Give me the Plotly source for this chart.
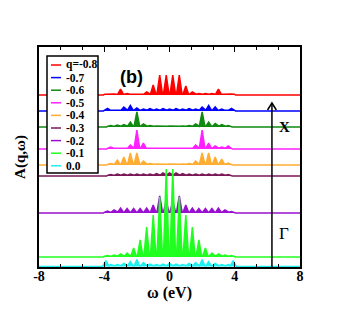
import plotly.graph_objects as go

# ---------------- data ----------------
labels = ["q=-0.8", "-0.7", "-0.6", "-0.5", "-0.4", "-0.3", "-0.2", "-0.1", "0.0"]
colors = ["#ff0000", "#0000ff", "#108a10", "#ff20ff", "#ffad33", "#7a1858", "#9a10d0", "#20ff20", "#20f0f0"]
offsets = [172, 156, 140, 118, 102, 91, 54, 10, 0.5]

grid_odd = [-3.8, -3.4, -3.0, -2.6, -2.2, -1.8, -1.4, -1.0, -0.6, -0.2,
            0.2, 0.6, 1.0, 1.4, 1.8, 2.2, 2.6, 3.0, 3.4, 3.8]
grid_even = [-3.6, -3.2, -2.8, -2.4, -2.0, -1.6, -1.2, -0.8, -0.4, 0.0,
             0.4, 0.8, 1.2, 1.6, 2.0, 2.4, 2.8, 3.2, 3.6]
grid_blue = [-3.8, -3.2, -2.8, -2.4, -2.0, -1.6, -1.2, -0.8, -0.4, 0.0,
             0.4, 0.8, 1.2, 1.6, 2.0, 2.4, 2.8, 3.2, 3.8]
grid_cyan = [-3.9, -3.6, -3.2, -2.8, -2.4, -2.0, -1.6, -1.2, -0.8, -0.4, 0.0,
             0.4, 0.8, 1.2, 1.6, 2.0, 2.4, 2.8, 3.2, 3.6, 3.9]

h_m08 = [1, 1, 6, 1.5, 1.5, 1.5, 3, 10, 20, 20, 20, 20, 9, 3, 1.5, 1.5, 1.5, 6, 1, 1]
h_m07 = [2.5, 1.5, 4, 5.5, 3, 2, 2.5, 2, 2.5, 2, 2.5, 2, 2.5, 2, 4, 5.5, 4, 2, 2.5]
h_m06 = [1.5, 2, 2.5, 5, 15, 3, 1.5, 1, 1, 1, 1, 1, 1.5, 3, 15, 5, 3.5, 2.5, 1.5]
h_m05 = [2, 1.5, 1.5, 4, 19, 6, 1.5, 1, 1, 1, 1, 1, 1.5, 4, 19, 6, 3, 2, 3]
h_m04 = [1.5, 5, 8, 12, 12, 4, 1.5, 1, 1, 1, 1, 1, 1.5, 4, 12, 12, 8, 6, 2]
h_m03 = [1.5, 2, 2, 2, 2, 2, 2, 2.5, 3, 3, 3, 2.5, 2, 2, 2, 2, 2, 2, 1.5]
h_m02 = [2, 3, 5, 4.5, 4.5, 4.5, 5, 8, 17, 12, 12, 17, 8, 5, 4.5, 4.5, 4.5, 5, 3, 1.5]
h_m01 = [1.5, 2, 3, 4, 9, 17, 30, 42, 60, 88, 88, 60, 42, 30, 17, 9, 4, 3, 2, 1.5]
h_000 = [6, 2, 2, 3, 5, 7, 4, 2.5, 2, 2.5, 3, 2.5, 2, 3, 4, 7, 5, 3, 2, 2, 6]

centers = [grid_odd, grid_blue, grid_even, grid_even, grid_even, grid_even, grid_odd, grid_odd, grid_cyan]
heights = [h_m08, h_m07, h_m06, h_m05, h_m04, h_m03, h_m02, h_m01, h_000]

tick_vals = [-8, -4, 0, 4, 8]
tick_text = ["-8", "-4", "0", "4", "8"]

# ---------------- figure ----------------
SERIF = "Liberation Serif"
W = 0.17      # half base width of a peak (eV)
PLAT = 0.8    # small continuum level between peaks

fig = go.Figure()
for lab, col, off, cs, hs in zip(labels, colors, offsets, centers, heights):
    xs = [-8.0, cs[0] - 0.25]
    ys = [off, off]
    for c, h in zip(cs, hs):
        xs += [c - W, c, c + W]
        ys += [off + PLAT, off + h, off + PLAT]
    xs += [cs[-1] + 0.25, 8.0]
    ys += [off, off]
    fig.add_trace(go.Scatter(x=xs, y=ys, mode="lines", fill="toself",
                             fillcolor=col, line=dict(color=col, width=1.5),
                             name=lab, showlegend=False, hoverinfo="skip"))

# page has an 8px body margin; figure is 330x306
FW, FH = 330, 306
# plot area in figure pixels
L, R, T, B = 31, 292, 39, 259
def px(x):   # page-pixel x -> paper
    return (x - 8 - L) / (R - L)
def py(y):   # page-pixel y -> paper
    return (B - (y - 8)) / (B - T)

shapes = []
annotations = []
# manual legend
shapes.append(dict(type="rect", xref="paper", yref="paper",
                   x0=px(47), x1=px(98), y0=py(173), y1=py(56),
                   line=dict(color="black", width=1.5), fillcolor="white", layer="above"))
for i, (lab, col) in enumerate(zip(labels, colors)):
    yy = 65 + 12.6 * i
    shapes.append(dict(type="line", xref="paper", yref="paper",
                       x0=px(51), x1=px(61), y0=py(yy), y1=py(yy),
                       line=dict(color=col, width=1.5), layer="above"))
    annotations.append(dict(xref="paper", yref="paper", x=px(64), y=py(yy),
                            text=lab, showarrow=False, xanchor="left", yanchor="middle",
                            font=dict(family=SERIF, size=11.5, color="black", weight="bold")))

# arrow X <- Gamma
ax_x = 6.28
tip = 164
shapes.append(dict(type="line", xref="x", yref="y", x0=ax_x, x1=ax_x, y0=-2, y1=tip,
                   line=dict(color="black", width=1.5)))
shapes.append(dict(type="path", xref="x", yref="y",
                   path=f"M {ax_x-0.27},{tip-7} L {ax_x},{tip} L {ax_x+0.27},{tip-7}",
                   line=dict(color="black", width=1.5)))
annotations.append(dict(x=7.05, y=140, xref="x", yref="y", text="X", showarrow=False,
                        font=dict(family=SERIF, size=15, color="black", weight="bold")))
annotations.append(dict(x=7.0, y=34, xref="x", yref="y", text="Γ", showarrow=False,
                        font=dict(family=SERIF, size=17, color="black")))
annotations.append(dict(xref="paper", yref="paper", x=px(131), y=py(65), text="(b)",
                        showarrow=False,
                        font=dict(family="Liberation Sans", size=18, color="black", weight="bold")))

fig.update_layout(
    width=FW, height=FH,
    margin=dict(l=L, r=FW - R, t=T, b=FH - B, pad=0),
    paper_bgcolor="white", plot_bgcolor="white",
    showlegend=False,
    shapes=shapes, annotations=annotations,
    xaxis=dict(range=[-8, 8], tickvals=tick_vals, ticktext=tick_text,
               ticks="inside", ticklen=5, tickwidth=1.2, tickcolor="black",
               minor=dict(dtick=4 / 3, tick0=-8, ticks="inside", ticklen=3, tickwidth=1, tickcolor="black"),
               showline=True, linecolor="black", linewidth=2, mirror="ticks",
               showgrid=False, zeroline=False, ticklabelstandoff=-5,
               tickfont=dict(family=SERIF, size=14, color="black", weight="bold"),
               title=dict(text="ω (eV)", standoff=0,
                          font=dict(family=SERIF, size=16, color="black", weight="bold"))),
    yaxis=dict(range=[0, 220], showticklabels=False, ticks="",
               showline=True, linecolor="black", linewidth=2, mirror=True,
               showgrid=False, zeroline=False,
               title=dict(text="A(q,ω)", standoff=8,
                          font=dict(family=SERIF, size=15, color="black", weight="bold"))),
)

fig.write_html("out.html")
